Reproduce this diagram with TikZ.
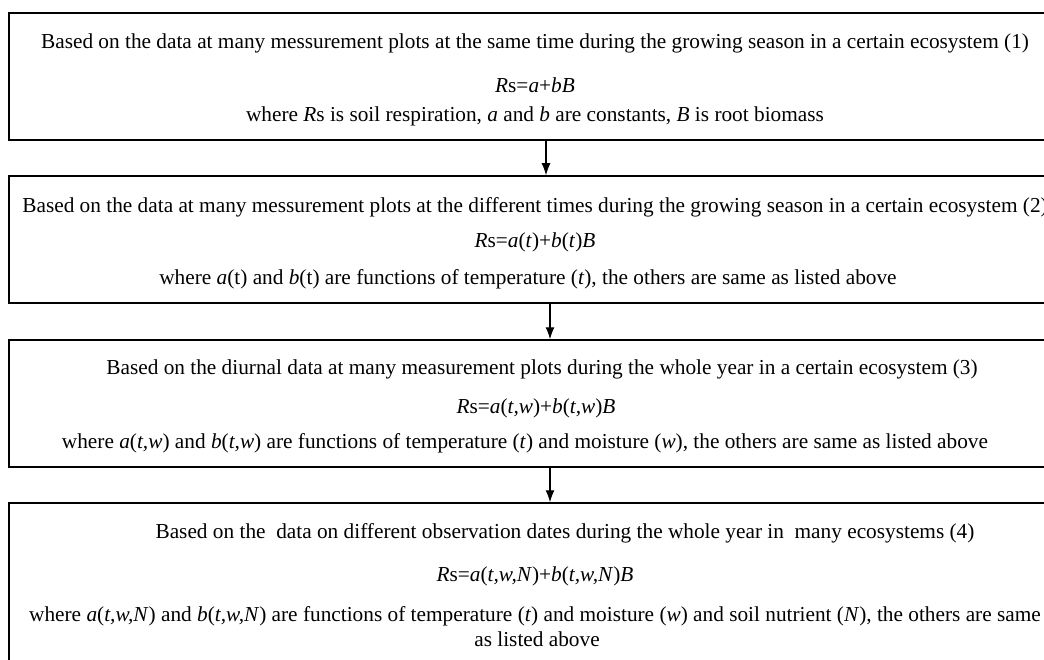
\documentclass[tikz,border=0pt]{standalone}
\usepackage{fontspec}
\setmainfont{Liberation Serif}
\usetikzlibrary{arrows.meta}

\tikzset{
  stage/.style={draw, line width=1.5pt, minimum width=1053pt, inner sep=0pt},
  txt/.style={anchor=base, inner sep=0pt, font=\fontsize{21.3}{25}\selectfont},
  flow/.style={-{Latex[length=12pt,width=9pt]}, line width=1.2pt}
}
\newcommand{\iv}[1]{\textit{#1}}

\begin{document}
\begin{tikzpicture}[x=1pt,y=-1pt]
    \clip (0,0) rectangle (1044,660);
    % the four stages
    \node[stage, minimum height=127pt] (S1) at (535.5,76.5) {};
    \node[stage, minimum height=127pt] (S2) at (535.5,239.5) {};
    \node[stage, minimum height=127pt] (S3) at (535.5,403.5) {};
    \node[stage, minimum height=177pt] (S4) at (535.5,591.5) {};
    % stage 1
    \node[txt] (S1a) at (535,49)
    {Based on the data at many messurement plots at the same time during the growing season in a certain ecosystem (1)};
    \node[txt] (S1b) at (535,93) {\iv{R}s=\iv{a}+\iv{bB}};
    \node[txt] (S1c) at (535,122)
    {where \iv{R}s is soil respiration, \iv{a} and \iv{b} are constants, \iv{B} is root biomass};
    % stage 2
    \node[txt] (S2a) at (535,213)
    {Based on the data at many messurement plots at the different times during the growing season in a certain ecosystem (2)};
    \node[txt] (S2b) at (535,248) {\iv{R}s=\iv{a}(\iv{t})+\iv{b}(\iv{t})\iv{B}};
    \node[txt] (S2c) at (528,285)
    {where \iv{a}(t) and \iv{b}(t) are functions of temperature (\iv{t}), the others are same as listed above};
    % stage 3
    \node[txt] (S3a) at (542,374)
    {Based on the diurnal data at many measurement plots during the whole year in a certain ecosystem (3)};
    \node[txt] (S3b) at (536,413) {\iv{R}s=\iv{a}(\iv{t,w})+\iv{b}(\iv{t,w})\iv{B}};
    \node[txt] (S3c) at (525,448)
    {where \iv{a}(\iv{t,w}) and \iv{b}(\iv{t,w}) are functions of temperature (\iv{t}) and moisture (\iv{w}), the others are same as listed above};
    % stage 4
    \node[txt] (S4a) at (565,538)
    {Based on the~ data on different observation dates during the whole year in~ many ecosystems (4)};
    \node[txt] (S4b) at (535,581) {\iv{R}s=\iv{a}(\iv{t,w,N})+\iv{b}(\iv{t,w,N})\iv{B}};
    \node[txt] (S4c) at (535,621)
    {where \iv{a}(\iv{t,w,N}) and \iv{b}(\iv{t,w,N}) are functions of temperature (\iv{t}) and moisture (\iv{w}) and soil nutrient (\iv{N}), the others are same};
    \node[txt] (S4d) at (537,646) {as listed above};
    % arrows
    \draw[flow] ([xshift=10.5pt]S1.south) -- ([xshift=10.5pt]S2.north);
    \draw[flow] ([xshift=14.5pt]S2.south) -- ([xshift=14.5pt]S3.north);
    \draw[flow] ([xshift=14.5pt]S3.south) -- ([xshift=14.5pt]S4.north);
\end{tikzpicture}
\end{document}
